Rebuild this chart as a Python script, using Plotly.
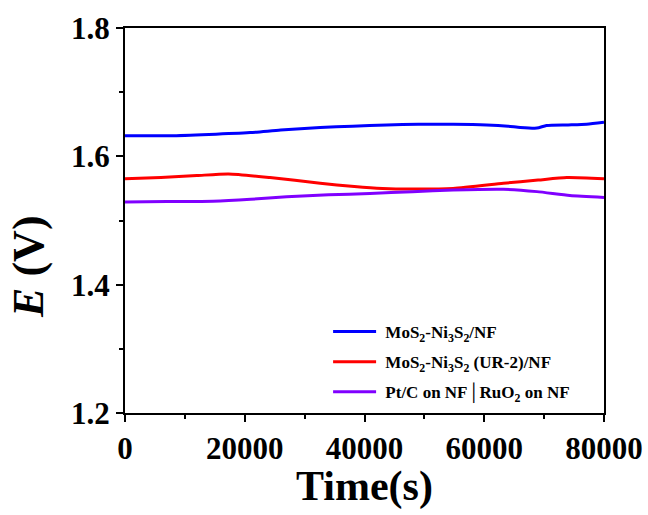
import plotly.graph_objects as go

# Data
t_blue = [0, 7500, 14000, 20900, 26000, 32600, 38000, 43700, 49000, 54800, 60400, 64000, 66000, 68800, 70400, 74000, 77100, 80000]
e_blue = [1.632, 1.632, 1.634, 1.637, 1.641, 1.645, 1.647, 1.649, 1.650, 1.650, 1.649, 1.647, 1.645, 1.644, 1.648, 1.649, 1.650, 1.653]

t_red = [0, 6000, 12000, 17300, 24200, 32600, 38300, 43000, 47700, 54800, 63200, 69000, 73800, 80000]
e_red = [1.565, 1.567, 1.570, 1.5725, 1.567, 1.558, 1.553, 1.550, 1.549, 1.550, 1.558, 1.563, 1.567, 1.565]

t_purple = [0, 7000, 14700, 21000, 27000, 34000, 40900, 48000, 54800, 63200, 68800, 74300, 80000]
e_purple = [1.529, 1.5295, 1.530, 1.533, 1.537, 1.540, 1.542, 1.545, 1.5475, 1.5486, 1.545, 1.539, 1.536]

names = [
    "<b>MoS<sub>2</sub>-Ni<sub>3</sub>S<sub>2</sub>/NF</b>",
    "<b>MoS<sub>2</sub>-Ni<sub>3</sub>S<sub>2</sub> (UR-2)/NF</b>",
    "<b>Pt/C on NF\u2502RuO<sub>2</sub> on NF</b>",
]
colors = ["#0000ff", "#ff0000", "#8000ff"]

x_ticks = [0, 20000, 40000, 60000, 80000]
y_ticks = [1.2, 1.4, 1.6, 1.8]

fig = go.Figure()
for i, (t, e, n, c) in enumerate(zip([t_blue, t_red, t_purple], [e_blue, e_red, e_purple], names, colors)):
    fig.add_trace(go.Scatter(x=t, y=e, mode="lines", name="\u00a0" + n, legendgroup=f"g{i}",
                             line=dict(color=c, width=3, shape="spline", smoothing=0.6)))

font_family = "Liberation Serif, Times New Roman, serif"
axis_common = dict(
    showline=True, linecolor="black", linewidth=2, mirror=True,
    ticks="outside", ticklen=7, tickwidth=2, tickcolor="black",
    showgrid=False, zeroline=False, automargin=False,
    tickfont=dict(family=font_family, size=31, color="black"),
)

fig.update_layout(
    width=648, height=515,
    margin=dict(l=125, r=44, t=28, b=102),
    paper_bgcolor="white", plot_bgcolor="white",
    font=dict(family=font_family, color="black"),
    showlegend=True,
    legend=dict(x=0.424, y=0.257, xanchor="left", yanchor="top",
                bgcolor="rgba(0,0,0,0)", borderwidth=0,
                font=dict(family=font_family, size=17, color="black"),
                tracegroupgap=5, itemwidth=43),
    annotations=[
        dict(text="<b><i>E</i> (V)</b>", textangle=-90,
             xref="paper", yref="paper", x=-0.2, y=0.38,
             xanchor="center", yanchor="middle", showarrow=False,
             font=dict(family=font_family, size=44, color="black")),
        dict(text="<b>Time(s)</b>",
             xref="paper", yref="paper", x=0.5, y=-0.192,
             xanchor="center", yanchor="middle", showarrow=False,
             font=dict(family=font_family, size=42, color="black")),
    ],
)
fig.update_xaxes(range=[0, 80000], tickvals=x_ticks,
                 ticktext=[f"<b>{v}</b>" for v in x_ticks],
                 minor=dict(ticks="outside", ticklen=4, tickwidth=2, tickcolor="black", dtick=10000),
                 **axis_common)
fig.update_yaxes(range=[1.2, 1.8], tickvals=y_ticks,
                 ticktext=[f"<b>{v:.1f}</b>" for v in y_ticks],
                 minor=dict(ticks="outside", ticklen=4, tickwidth=2, tickcolor="black", dtick=0.1),
                 **axis_common)

fig.write_html("out.html", config={"displayModeBar": False},
               post_script="document.body.style.margin='0';")
